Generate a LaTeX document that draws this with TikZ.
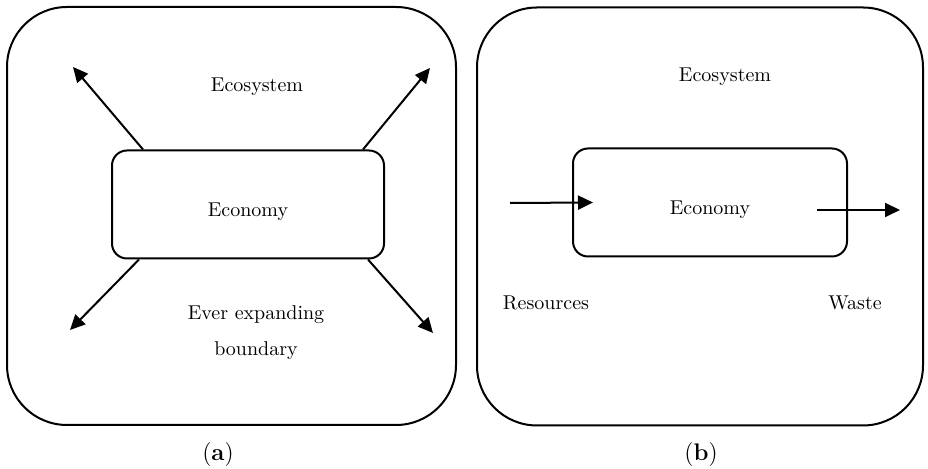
\documentclass[tikz,border=0pt]{standalone}
\usepackage{tikz}
\usetikzlibrary{arrows.meta,positioning}

\begin{document}
\begin{tikzpicture}[
      x=0.5pt,y=-0.5pt,
      outerbox/.style={rectangle,draw,line width=1pt,rounded corners=30pt,
                  minimum width=224.5pt,minimum height=209pt},
      econbox/.style={rectangle,draw,line width=1pt,rounded corners=7.5pt,
                  minimum width=136pt,minimum height=54pt,
                  label={[yshift=-3.8pt]center:Economy}},
      txt/.style={font=\normalsize,align=center},
      captxt/.style={font=\large},
      arr/.style={-{Triangle[length=7.5pt,width=7pt]},line width=1pt}
    ]
      \useasboundingbox (0,0) rectangle (928,469);

      % panel (a)
      \node[outerbox] (ecoa) at (231.5,216) {};
      \node[econbox] (econa) at (248,204.5) {};
      \node[txt] (ecosysa) at (257,87) {Ecosystem};
      \node[txt] (bound) at (256,333) {Ever expanding\\[6pt]boundary};
      \node[captxt] (capa) at (218,455) {(\textbf{a})};
      \coordinate (ul) at (73,67);
      \coordinate (ur) at (430,68);
      \coordinate (ll) at (70,330);
      \coordinate (lr) at (433,333);
      \draw[arr] ([xshift=16pt]econa.north west) -- (ul);
      \draw[arr] ([xshift=-11pt]econa.north east) -- (ur);
      \draw[arr] ([xshift=14pt]econa.south west) -- (ll);
      \draw[arr] ([xshift=-8.5pt]econa.south east) -- (lr);

      % panel (b)
      \node[outerbox,minimum width=223pt] (ecob) at (700,216.5) {};
      \node[econbox,minimum width=137pt] (econb) at (710,202.5) {};
      \node[txt] (ecosysb) at (725,77) {Ecosystem};
      \node[txt] (res) at (546,303) {Resources};
      \node[txt] (waste) at (855,303) {Waste};
      \node[captxt] (capb) at (701,455) {(\textbf{b})};
      \coordinate (resin) at (510,203);
      \coordinate (wasteout) at (900,210);
      \draw[arr] (resin) -- ([xshift=10.5pt]econb.west);
      \draw[arr] ([xshift=-15.5pt,yshift=-3.75pt]econb.east) -- (wasteout);
    \end{tikzpicture}
\end{document}
